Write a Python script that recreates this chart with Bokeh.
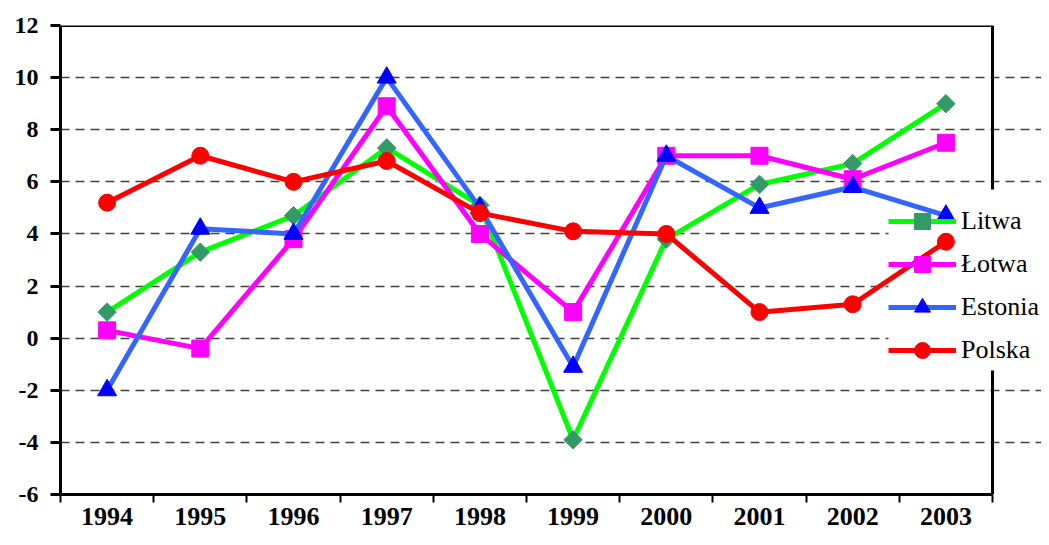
import numpy as np
from bokeh.plotting import figure
from bokeh.models import FixedTicker, Legend, LegendItem, Range1d, Span, BoxAnnotation
from bokeh.embed import file_html
from bokeh.resources import INLINE

years = [1994, 1995, 1996, 1997, 1998, 1999, 2000, 2001, 2002, 2003]
litwa = [1.0, 3.3, 4.7, 7.3, 5.1, -3.9, 3.8, 5.9, 6.7, 9.0]
lotwa = [0.3, -0.4, 3.8, 8.9, 4.0, 1.0, 7.0, 7.0, 6.1, 7.5]
estonia = [-2.0, 4.2, 4.0, 10.0, 5.0, -1.1, 7.0, 5.0, 5.8, 4.7]
polska = [5.2, 7.0, 6.0, 6.8, 4.8, 4.1, 4.0, 1.0, 1.3, 3.7]
y_ticks = [-6, -4, -2, 0, 2, 4, 6, 8, 10, 12]

x_lo = years[0] - 0.5
x_hi = years[-1] + 0.5
# frame extends past the chart's right edge so the legend is not clipped
x_view_hi = x_lo + (x_hi - x_lo) * 981.0 / 932.0

p = figure(width=1041, height=537, output_backend="svg", toolbar_location=None,
           x_range=Range1d(x_lo, x_view_hi),
           y_range=Range1d(y_ticks[0], y_ticks[-1]),
           min_border_left=60, min_border_right=0, min_border_top=25, min_border_bottom=43)
p.background_fill_color = "white"
p.border_fill_color = "white"
p.outline_line_color = None

boundaries = [y - 0.5 for y in years] + [x_hi]
p.xaxis.ticker = FixedTicker(ticks=years, minor_ticks=boundaries)
p.xaxis.bounds = (x_lo, x_hi)
p.xaxis.major_tick_line_color = None
p.xaxis.minor_tick_line_color = "black"
p.xaxis.minor_tick_line_width = 2
p.xaxis.minor_tick_out = 8
p.xaxis.minor_tick_in = 0
p.xaxis.axis_line_width = 3
p.xaxis.axis_line_color = "black"
p.xaxis.major_label_text_font = "Liberation Serif"
p.xaxis.major_label_text_font_style = "bold"
p.xaxis.major_label_text_font_size = "26px"
p.xaxis.major_label_text_color = "black"
p.xaxis.major_label_standoff = 5

p.yaxis.ticker = FixedTicker(ticks=y_ticks, minor_ticks=[])
p.yaxis.major_label_overrides = {t: str(t) for t in y_ticks}
p.yaxis.major_tick_line_color = "black"
p.yaxis.major_tick_line_width = 3
p.yaxis.major_tick_out = 10
p.yaxis.major_tick_in = 0
p.yaxis.axis_line_width = 3
p.yaxis.axis_line_color = "black"
p.yaxis.major_label_text_font = "Liberation Serif"
p.yaxis.major_label_text_font_style = "bold"
p.yaxis.major_label_text_font_size = "24px"
p.yaxis.major_label_text_color = "black"
p.yaxis.major_label_standoff = 12

p.xgrid.grid_line_color = None
p.ygrid.ticker = FixedTicker(ticks=y_ticks[1:-1])
p.ygrid.bounds = (x_lo, x_hi)
p.ygrid.grid_line_color = "#404040"
p.ygrid.grid_line_width = 1.5
p.ygrid.grid_line_dash = "9 6"

# top and right border of the plot area
p.segment(x0=[x_lo], y0=[y_ticks[-1]], x1=[x_hi], y1=[y_ticks[-1]],
          line_color="black", line_width=3)
right_border = Span(location=x_hi, dimension="height", line_color="black", line_width=3)
right_border.level = "underlay"
p.add_layout(right_border)

# white legend area, drawn under the series (hides grid and border there)
legend_bg = BoxAnnotation(left=828, bottom=124, top=124 + 181,
                          left_units="screen", bottom_units="screen", top_units="screen",
                          fill_color="white", fill_alpha=1.0, line_color=None)
legend_bg.level = "underlay"
p.add_layout(legend_bg)

series = [
    ("Litwa", litwa, "#00FF00", "square", "#339966", 13, np.pi / 4),
    ("Łotwa", lotwa, "#FF00FF", "square", "#FF00FF", 17, 0.0),
    ("Estonia", estonia, "#3366FF", "triangle", "#0000FF", 19, 0.0),
    ("Polska", polska, "#FF0000", "circle", "#FF0000", 17, 0.0),
]
items = []
for name, vals, lc, mk, mc, ms, ang in series:
    r1 = p.line(years, vals, line_color=lc, line_width=5)
    r2 = p.scatter(x=years, y=vals, marker=mk, size=ms, angle=[ang] * len(years),
                   fill_color=mc, line_color=mc)
    items.append(LegendItem(label=name, renderers=[r1, r2], index=0))

legend = Legend(items=items, location=(828, 124), orientation="vertical",
                glyph_width=68, glyph_height=40, label_height=40, spacing=3,
                label_standoff=5, padding=6, margin=0,
                label_text_font="Liberation Serif", label_text_font_size="26px",
                label_text_color="black",
                background_fill_alpha=0.0,
                border_line_color=None)
p.add_layout(legend, "center")

open("out.html", "w").write(file_html(p, INLINE))
